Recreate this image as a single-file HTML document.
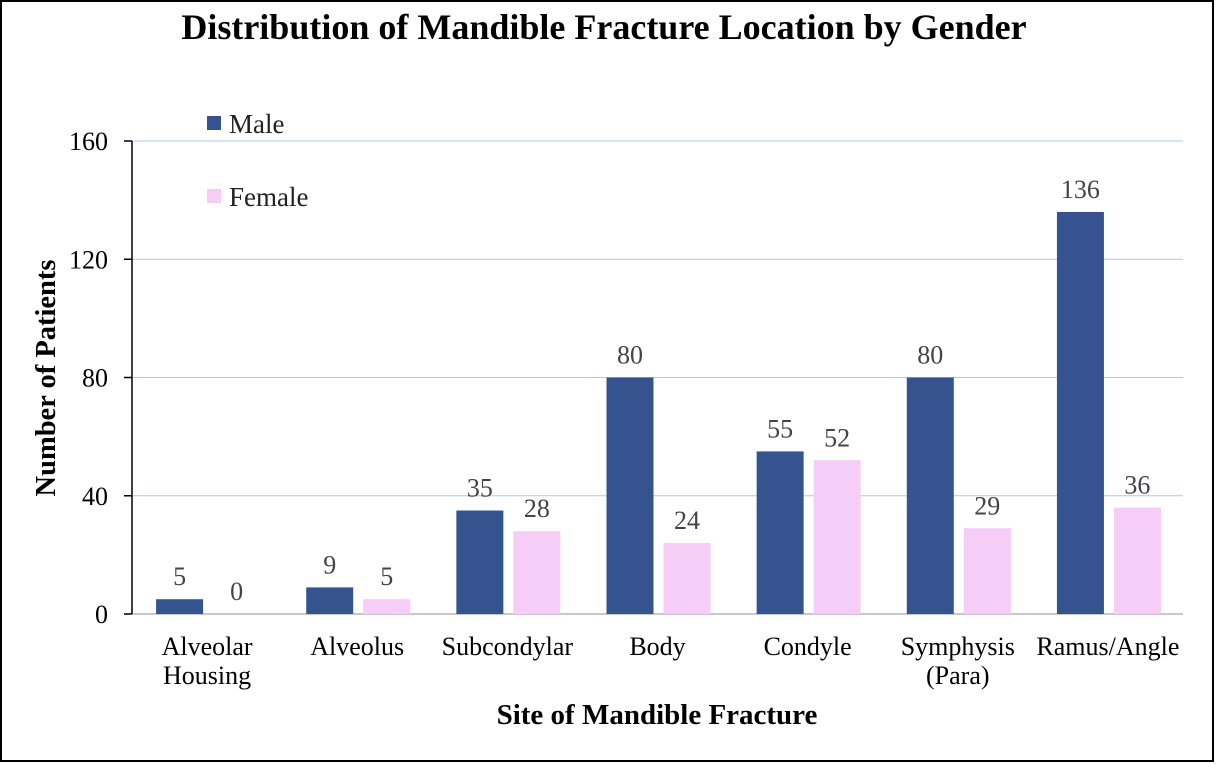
<!DOCTYPE html>
<html><head><meta charset="utf-8"><style>
html,body{margin:0;padding:0;background:#fff;}
svg{display:block;font-family:"Liberation Serif",serif;}
</style></head><body>
<svg id="chart" width="1216" height="764">
<rect x="1" y="1" width="1212" height="760" fill="#fff" stroke="#000" stroke-width="2"/>
<text x="604" y="39" text-anchor="middle" font-size="36" font-weight="bold">Distribution of Mandible Fracture Location by Gender</text>
<text transform="translate(55,378) rotate(-90)" text-anchor="middle" font-size="28.5" font-weight="bold">Number of Patients</text>
<text x="657" y="724" text-anchor="middle" font-size="29" font-weight="bold">Site of Mandible Fracture</text>
<g id="grid"></g><g id="bars"></g><g id="labels"></g>
<rect x="207" y="116" width="14" height="14" fill="#35548f"/>
<text x="229" y="133" font-size="27" fill="#222">Male</text>
<rect x="207" y="189" width="14" height="14" fill="#f6cdf6"/>
<text x="229" y="206" font-size="27" fill="#222">Female</text>
</svg>
<script>
const categories=[["Alveolar","Housing"],["Alveolus"],["Subcondylar"],["Body"],["Condyle"],["Symphysis","(Para)"],["Ramus/Angle"]];
const maleValues=[5,9,35,80,55,80,136];
const femaleValues=[0,5,28,24,52,29,36];
const yTicks=[0,40,80,120,160];
const NS="http://www.w3.org/2000/svg";
const x0=132,x1=1183,y0=614,yTop=141,yMax=160;
const yS=v=>y0-(v/yMax)*(y0-yTop);
const band=(x1-x0)/categories.length;
const xC=i=>x0+band*(i+0.5);
function mk(tag,attrs,parent,text){const e=document.createElementNS(NS,tag);for(const k in attrs)e.setAttribute(k,attrs[k]);if(text!==undefined)e.textContent=text;document.getElementById(parent).appendChild(e);return e;}
yTicks.forEach(t=>{
  const y=yS(t);
  const g=mk('line',{x1:x0,x2:x1,y1:y,y2:y,stroke:t===0?'#c8c8c8':'#b4c7e7','stroke-width':t===0?2:1},'grid');
  
  
  const tk=mk('line',{x1:x0-8,x2:x0,y1:y,y2:y,stroke:'#000','stroke-width':1.5},'grid');
  
  
  const tl=mk('text',{x:x0-24,y:y+9,'text-anchor':'end','font-size':26},'grid',String(t));
  
  
});
const ax=mk('line',{x1:x0,x2:x0,y1:yTop,y2:y0,stroke:'#000','stroke-width':1.5},'grid');


const bw=47;
categories.forEach((c,i)=>{
  const cx=xC(i);
  [[maleValues[i],cx-51,'#35548f','male'],[femaleValues[i],cx+6,'#f6cdf6','female']].forEach(([v,bx,col,s])=>{
    const r=mk('rect',{x:bx,y:yS(v),width:bw,height:y0-yS(v),fill:col},'bars');
    
    
    const l=mk('text',{x:bx+bw/2,y:yS(v)-14,'text-anchor':'middle','font-size':26,fill:'#444'},'labels',String(v));
    
    
  });
  c.forEach((line,j)=>{
    const t=mk('text',{x:cx,y:655+j*29,'text-anchor':'middle','font-size':26},'labels',line);
    
    
  });
});
</script>
</body></html>
